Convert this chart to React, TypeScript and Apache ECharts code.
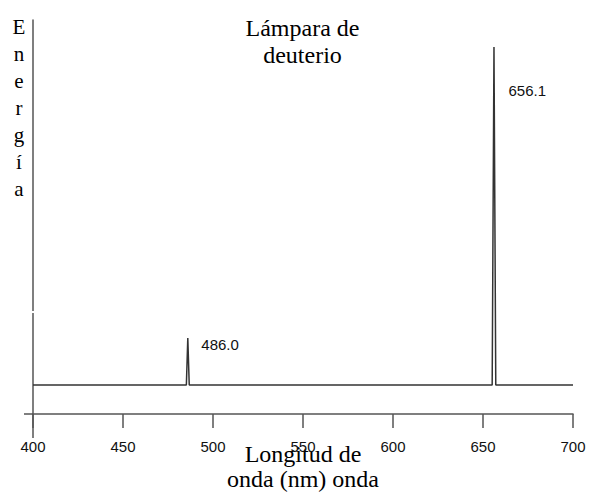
import React, { useEffect, useRef } from 'react';
import * as echarts from 'echarts';

// Spectrum (wavelength in nm, energy in arbitrary units)
const wavelengths = [400, 485.2, 486.0, 486.8, 655.1, 656.1, 657.1, 700];
const energies = [29, 29, 76, 29, 29, 367, 29, 29];

// Labelled peaks
const peakWavelengths = [486.0, 656.1];
const peakEnergies = [76, 367];

// Axis ticks
const xMin = 400;
const xMax = 700;
const xInterval = 50;

const titleText = 'Lámpara de\ndeuterio';
const yName = 'Energía';
const xName = 'Longitud de\nonda (nm) onda';

const SERIF = 'Liberation Serif';
const SANS = 'Liberation Sans';

export default function App() {
  const ref = useRef<HTMLDivElement>(null);
  useEffect(() => {
    const chart = echarts.init(ref.current!, null, { renderer: 'svg' });
    const peakOffsets = [
      [8, 6],
      [9, 43],
    ];
    chart.setOption({
      animation: false,
      backgroundColor: '#ffffff',
      grid: {
        left: 33,
        right: 16,
        top: 20,
        bottom: 80,
        containLabel: false,
        outerBoundsMode: 'none',
      },
      xAxis: {
        type: 'value',
        min: xMin,
        max: xMax,
        interval: xInterval,
        axisLine: { show: true, onZero: false, lineStyle: { color: '#555', width: 1.5 } },
        axisTick: { show: true, length: 14, lineStyle: { color: '#555', width: 1.5 } },
        axisLabel: { margin: 24.5, fontFamily: SANS, fontSize: 15, lineHeight: 15, color: '#111' },
        splitLine: { show: false },
        name: xName,
        nameLocation: 'middle',
        nameGap: 27,
        nameMoveOverlap: false,
        nameTextStyle: { fontFamily: SERIF, fontSize: 24, lineHeight: 25, color: '#000' },
      },
      yAxis: {
        type: 'value',
        min: 0,
        max: 394,
        axisLine: { show: true, onZero: false, lineStyle: { color: '#555', width: 1.5 } },
        axisTick: { show: false },
        axisLabel: { show: false },
        splitLine: { show: false },
      },
      series: [
        {
          type: 'line',
          data: wavelengths.map((w, i) => [w, energies[i]]),
          showSymbol: false,
          lineStyle: { color: '#333', width: 1.5 },
          z: 3,
        },
        {
          type: 'scatter',
          symbol: 'circle',
          symbolSize: 1,
          itemStyle: { color: 'rgba(0,0,0,0)' },
          data: peakWavelengths.map((w, i) => ({
            value: [w, peakEnergies[i]],
            label: { offset: peakOffsets[i] },
          })),
          label: {
            show: true,
            position: 'right',
            distance: 5,
            formatter: (p: any) => Number(p.value[0]).toFixed(1),
            fontFamily: SANS,
            fontSize: 15,
            color: '#111',
            opacity: 1,
          },
          emphasis: { disabled: true },
          z: 4,
        },
      ],
      graphic: [
        {
          type: 'text',
          x: 302.5,
          y: 14,
          style: {
            text: titleText,
            fontFamily: SERIF,
            fontSize: 24,
            lineHeight: 27,
            fill: '#000',
            textAlign: 'center',
            textVerticalAlign: 'top',
          },
        },
        {
          type: 'text',
          x: 19,
          y: 13,
          style: {
            text: yName.split('').join('\n'),
            fontFamily: SERIF,
            fontSize: 21,
            lineHeight: 27,
            fill: '#000',
            textAlign: 'center',
            textVerticalAlign: 'top',
          },
        },
        {
          type: 'line',
          shape: { x1: 24, y1: 414, x2: 33, y2: 414 },
          style: { stroke: '#555', lineWidth: 1.5 },
        },
        {
          type: 'line',
          shape: { x1: 33, y1: 414, x2: 33, y2: 438 },
          style: { stroke: '#555', lineWidth: 1.5 },
        },
        {
          type: 'rect',
          shape: { x: 31, y: 311, width: 4, height: 2 },
          style: { fill: '#ffffff' },
          z: 100,
        },
      ],
    });
    return () => chart.dispose();
  }, []);
  return (
    <div
      ref={ref}
      style={{ position: 'absolute', left: 0, top: 0, width: 589, height: 494, background: '#fff' }}
    />
  );
}
